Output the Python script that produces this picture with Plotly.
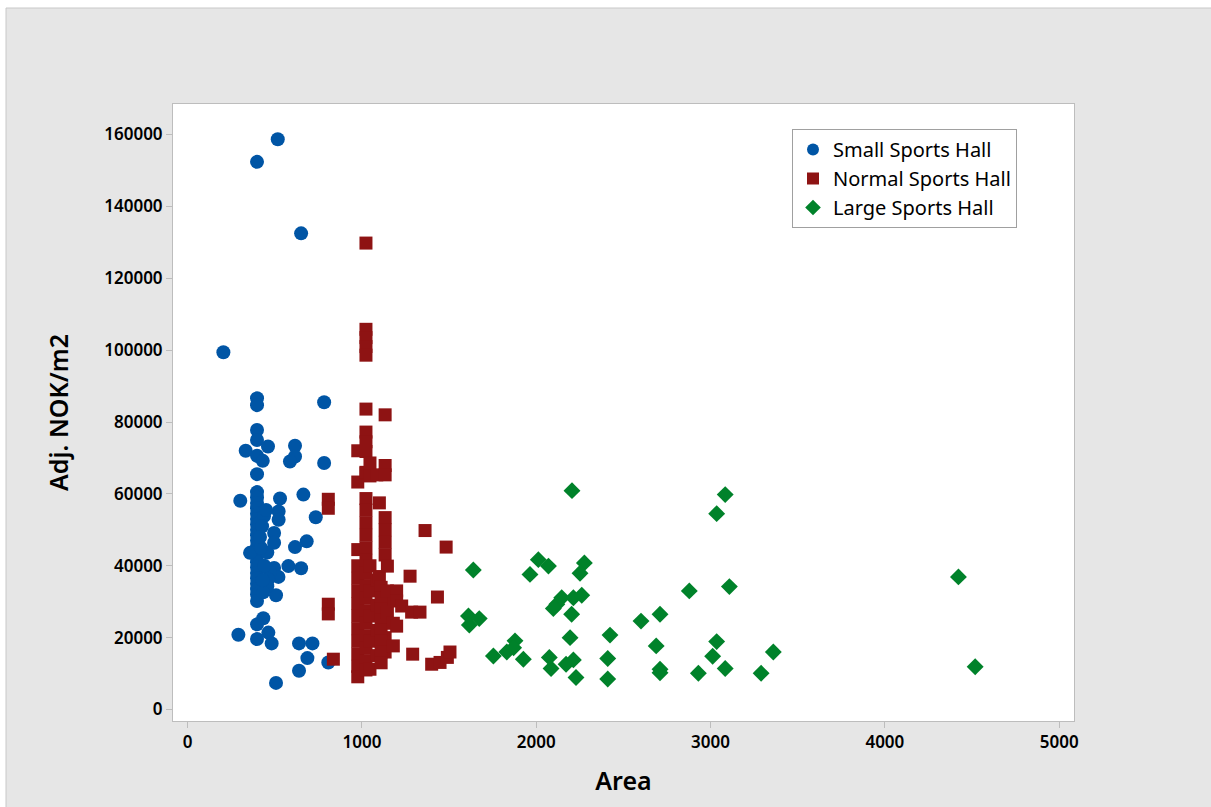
import plotly.graph_objects as go

# Small sports halls: floor area (m2) and adjusted cost (NOK/m2)
small_area = [517, 398, 651, 205, 398, 398, 783, 398, 398, 333, 461, 398, 431, 398,
              616, 616, 587, 783,
              398, 398, 398, 398, 398, 398, 398, 398, 398, 398, 398, 398, 398, 398,
              398, 398, 398, 398, 398, 398, 398,
              302, 530, 664, 522, 522, 735, 496, 496, 683, 616, 358, 496, 578, 651,
              521, 507, 434, 398, 291, 398, 463, 482, 639, 716, 687, 807, 639, 507,
              438, 427, 457, 473, 462, 457, 433, 440, 420, 430, 415, 450]
small_cost = [158700, 152400, 132500, 99400, 86600, 84700, 85500, 77800, 75000, 72000, 73200, 70600, 69200, 65500,
              73400, 70400, 69000, 68600,
              60500, 59000, 57500, 56000, 54500, 53000, 51500, 50000, 48500, 47000, 45500, 44000, 42500, 41000,
              39500, 38000, 36500, 35000, 33500, 32000, 30200,
              58100, 58700, 59800, 55100, 52800, 53500, 49100, 46400, 46800, 45200, 43600, 39400, 39900, 39300,
              36900, 31800, 25400, 23700, 20800, 19600, 21400, 18400, 18400, 18400, 14300, 13100, 10800, 7400,
              53800, 51000, 43700, 38100, 36200, 34300, 32600, 40000, 45000, 36000, 48000, 55500]

# Normal sports halls
normal_area = [1023, 1023, 1023, 1023, 1023, 1023, 1133,
               976, 976, 976, 976, 976, 976, 976, 976, 976, 976, 976, 976, 976,
               1023, 1023, 1023, 1023, 1023, 1023, 1023, 1023, 1023, 1023, 1023, 1023, 1023,
               1023, 1023, 1023, 1023, 1023, 1023, 1023,
               1046, 1046, 1046, 1046, 1046, 1046, 1046,
               1085, 1085, 1085, 1085, 1085,
               1100, 1100,
               1133, 1133, 1133, 1133, 1133, 1133, 1133, 1133, 1133, 1133,
               1110, 1110, 1110, 1110, 1110, 1110, 1110, 1110,
               1146, 1146, 1146, 1180, 1180, 1199, 1199, 1199, 1228, 1276, 1285, 1291,
               1333, 1362, 1400, 1433, 1448, 1483, 1490, 1505,
               807, 807, 807, 807, 836]
normal_cost = [129800, 105800, 103500, 101000, 98600, 83600, 82000,
               72000, 63300, 44500, 40000, 36500, 33000, 29500, 26000, 22500, 19000, 15500, 12000, 9100,
               77200, 74500, 71800, 65800, 58700, 55500, 52000, 48500, 45000, 41500, 38000, 34500, 31000,
               27500, 24000, 20500, 17000, 13500, 11000, 66000,
               68600, 65000, 40000, 33000, 26000, 19000, 11200,
               65300, 36000, 29000, 22000, 15000,
               57500, 37000,
               67900, 65300, 53400, 50000, 46500, 43000, 30000, 25000, 20000, 16000,
               34000, 31000, 28000, 25000, 22000, 19000, 16000, 13000,
               39900, 33000, 27000, 17700, 24000, 33000, 30200, 23200, 28800, 37100, 27100, 15400,
               27100, 49800, 12600, 31300, 13100, 45200, 14500, 16000,
               58500, 56000, 29300, 26600, 14000]

# Large sports halls
large_area = [2205, 3084, 3035, 1639, 2012, 2070, 1964, 2276, 2251, 2878, 3108,
              1611, 1673, 1616, 2118, 2146, 2213, 2261, 2098, 2203,
              2710, 2601, 2423, 2194, 2688, 3035, 3012, 3360,
              1878, 1754, 1831, 1926, 1870, 2075, 2085, 2171, 2213, 2228, 2410, 2410,
              2710, 2710, 2930, 3084, 3290, 4422, 4518]
large_cost = [60900, 59800, 54500, 38800, 41700, 39900, 37600, 40800, 37900, 33000, 34200,
              26000, 25300, 23500, 29300, 31100, 31100, 31800, 28100, 26500,
              26500, 24600, 20700, 20000, 17700, 18900, 14800, 16000,
              19100, 14900, 16000, 14000, 17200, 14500, 11400, 12600, 13800, 8900, 14200, 8500,
              11200, 10200, 10100, 11400, 10100, 36900, 11900]

x_ticks = [0, 1000, 2000, 3000, 4000, 5000]
y_ticks = [0, 20000, 40000, 60000, 80000, 100000, 120000, 140000, 160000]

W, H = 1211, 807
ML, MR, MT, MB = 173, 137, 104, 86
PW, PH = W - ML - MR, H - MT - MB

FONT = "Noto Sans"
GRAY_BG = "#e6e6e6"
AXIS_GRAY = "#bdbdbd"

fig = go.Figure()
fig.add_trace(go.Scatter(
    x=small_area, y=small_cost, mode="markers", name="Small Sports Hall",
    marker=dict(symbol="circle", size=14, color="#0055a5", line=dict(width=0))))
fig.add_trace(go.Scatter(
    x=normal_area, y=normal_cost, mode="markers", name="Normal Sports Hall",
    marker=dict(symbol="square", size=13, color="#8e1313", line=dict(width=0))))
fig.add_trace(go.Scatter(
    x=large_area, y=large_cost, mode="markers", name="Large Sports Hall",
    marker=dict(symbol="diamond", size=13, color="#00822a", line=dict(width=0))))


def px_x(p):
    return (p - ML) / PW


def px_y(p):
    return (H - MB - p) / PH


# white strips along the top and left edge with a thin frame line
shapes = [
    dict(type="rect", xref="paper", yref="paper", x0=px_x(0), x1=px_x(W), y0=px_y(8), y1=px_y(0),
         fillcolor="white", line=dict(width=0), layer="above"),
    dict(type="rect", xref="paper", yref="paper", x0=px_x(0), x1=px_x(6), y0=px_y(H), y1=px_y(0),
         fillcolor="white", line=dict(width=0), layer="above"),
    dict(type="line", xref="paper", yref="paper", x0=px_x(6), x1=px_x(W), y0=px_y(8), y1=px_y(8),
         line=dict(color="#c8c8c8", width=1), layer="above"),
    dict(type="line", xref="paper", yref="paper", x0=px_x(6), x1=px_x(6), y0=px_y(8), y1=px_y(H),
         line=dict(color="#c8c8c8", width=1), layer="above"),
]

tick_font = dict(family=FONT, size=17, color="#000000", weight=600)
title_font = dict(family=FONT, size=25, color="#000000", weight=600)

fig.update_layout(
    width=W, height=H,
    margin=dict(l=ML, r=MR, t=MT, b=MB),
    paper_bgcolor=GRAY_BG, plot_bgcolor="white",
    font=dict(family=FONT, color="#000000"),
    shapes=shapes,
    showlegend=True,
    legend=dict(
        x=px_x(792), y=px_y(129), xanchor="left", yanchor="top",
        bgcolor="white", bordercolor="#a0a0a0", borderwidth=1,
        font=dict(family=FONT, size=20, color="#000000"),
        tracegroupgap=0, itemsizing="constant",
    ),
    xaxis=dict(
        range=[-84, 5085], tickvals=x_ticks, tickformat="d",
        showgrid=False, zeroline=False,
        showline=True, mirror=True, linecolor=AXIS_GRAY, linewidth=1,
        ticks="outside", ticklen=6, tickcolor=AXIS_GRAY,
        tickfont=tick_font,
        title=dict(text="Area", font=title_font, standoff=20),
    ),
    yaxis=dict(
        range=[-3200, 168500], tickvals=y_ticks, tickformat="d",
        showgrid=False, zeroline=False,
        showline=True, mirror=True, linecolor=AXIS_GRAY, linewidth=1,
        ticks="outside", ticklen=6, tickcolor=AXIS_GRAY,
        tickfont=tick_font,
        title=dict(text="Adj. NOK/m2", font=title_font, standoff=28),
    ),
)

fig.write_html("out.html")
